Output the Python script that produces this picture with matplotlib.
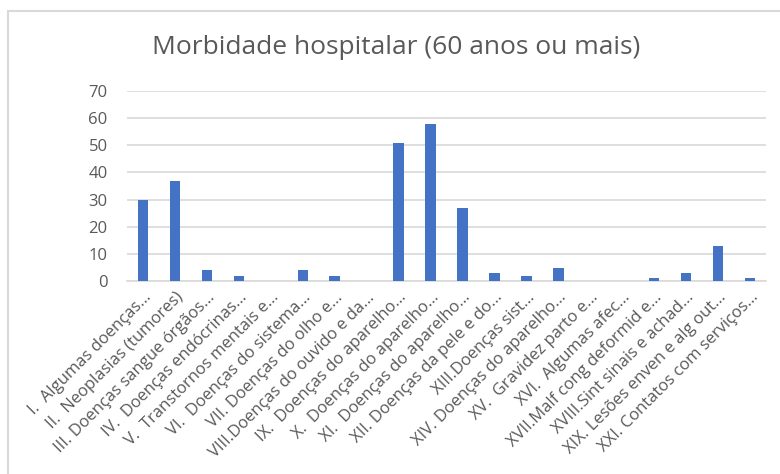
import matplotlib.pyplot as plt
from matplotlib.patches import Rectangle

plt.rcParams['font.family'] = ['Open Sans', 'DejaVu Sans']

categorias = [
    "I.  Algumas doenças…",
    "II.  Neoplasias (tumores)",
    "III. Doenças sangue órgãos…",
    "IV.  Doenças endócrinas…",
    "V.  Transtornos mentais e…",
    "VI.  Doenças do sistema…",
    "VII. Doenças do olho e…",
    "VIII.Doenças do ouvido e da…",
    "IX.  Doenças do aparelho…",
    "X.  Doenças do aparelho…",
    "XI.  Doenças do aparelho…",
    "XII. Doenças da pele e do…",
    "XIII.Doenças sist…",
    "XIV. Doenças do aparelho…",
    "XV.  Gravidez parto e…",
    "XVI.  Algumas afec…",
    "XVII.Malf cong deformid e…",
    "XVIII.Sint sinais e achad…",
    "XIX. Lesões enven e alg out…",
    "XXI. Contatos com serviços…",
]
valores = [30, 37, 4, 2, 0, 4, 2, 0, 51, 58, 27, 3, 2, 5, 0, 0, 1, 3, 13, 1]

cinza = "#595959"

fig = plt.figure(figsize=(7.8, 4.74), dpi=100)
ax = fig.add_axes([0.163, 0.407, 0.819, 0.401])

x = range(len(categorias))
ax.bar(x, valores, width=0.33, color="#4472C4", zorder=3)

ax.set_xlim(-0.5, len(categorias) - 0.5)
ax.set_ylim(0, 70)
ax.set_yticks(range(0, 71, 10))
ax.grid(axis="y", color="#D9D9D9", linewidth=1.2, zorder=0)
for lado in ["top", "right", "left"]:
    ax.spines[lado].set_visible(False)
ax.spines["bottom"].set_color("#D9D9D9")
ax.spines["bottom"].set_linewidth(1.2)
ax.tick_params(axis="both", length=0, labelcolor=cinza, labelsize=12)
ax.tick_params(axis="y", pad=14)
ax.tick_params(axis="x", pad=6)
ax.set_xticks(list(x))
ax.set_xticklabels(categorias, rotation=45, ha="right", rotation_mode="anchor")

fig.text(0.508, 0.9, "Morbidade hospitalar (60 anos ou mais)",
         ha="center", va="center", fontsize=19, color=cinza)

# moldura do gráfico
fig.patches.append(Rectangle((8 / 780, -0.1), 1.2, 1 - 11 / 474 + 0.1,
                             transform=fig.transFigure, fill=False,
                             edgecolor="#D9D9D9", linewidth=1.5))

fig.savefig("out.png", dpi=100)
